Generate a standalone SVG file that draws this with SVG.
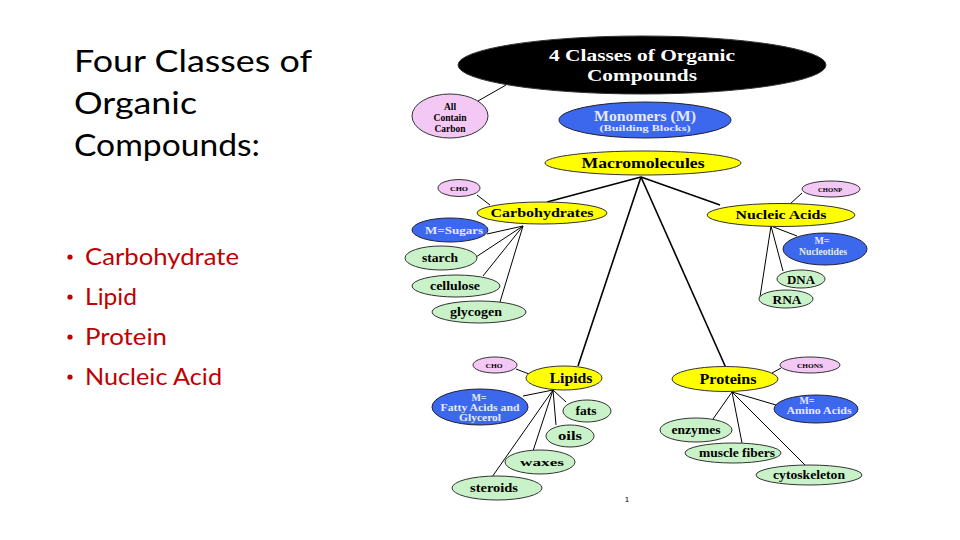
<svg xmlns="http://www.w3.org/2000/svg" width="960" height="540" viewBox="0 0 960 540">
<style>
.n{stroke:#333;stroke-width:1}
.blk{fill:#000}
.pk{fill:#f4c8f4}
.bl{fill:#3c68ee;stroke:#223}
.yl{fill:#ffff00}
.gr{fill:#c9f2c9}
.t{font-family:"Liberation Serif",serif;font-weight:bold;text-anchor:middle;fill:#000}
.w{fill:#fff}
.lb{fill:#e6e8ff}
.c line{stroke:#000;stroke-width:1}
.c .m{stroke-width:1.6}
.h{font-family:Lato,"Open Sans",sans-serif;font-weight:400;font-size:31px;fill:#000}
.b{font-family:Lato,"Open Sans",sans-serif;font-size:23px;fill:#c00000}
</style>
<rect width="960" height="540" fill="#fff"/>
<g id="left-text">
<text class="h" x="74" y="72" textLength="238" lengthAdjust="spacingAndGlyphs">Four Classes of</text>
<text class="h" x="74" y="114" textLength="123" lengthAdjust="spacingAndGlyphs">Organic</text>
<text class="h" x="74" y="156" textLength="186" lengthAdjust="spacingAndGlyphs">Compounds:</text>
<circle cx="70" cy="257" r="2.6" fill="#c00000"/>
<text class="b" x="85" y="265" textLength="154" lengthAdjust="spacingAndGlyphs">Carbohydrate</text>
<circle cx="70" cy="297" r="2.6" fill="#c00000"/>
<text class="b" x="85" y="305" textLength="52" lengthAdjust="spacingAndGlyphs">Lipid</text>
<circle cx="70" cy="337" r="2.6" fill="#c00000"/>
<text class="b" x="85" y="345" textLength="82" lengthAdjust="spacingAndGlyphs">Protein</text>
<circle cx="70" cy="377" r="2.6" fill="#c00000"/>
<text class="b" x="85" y="385" textLength="137" lengthAdjust="spacingAndGlyphs">Nucleic Acid</text>
</g>
<g class="c" id="connectors">
<line x1="478" y1="101" x2="506" y2="85"/>
<line class="m" x1="641" y1="177" x2="547" y2="202"/>
<line class="m" x1="641" y1="177" x2="720" y2="205"/>
<line class="m" x1="641" y1="177" x2="578" y2="366"/>
<line class="m" x1="641" y1="177" x2="726" y2="368"/>
<line x1="477" y1="195" x2="490" y2="205"/>
<line x1="523" y1="226" x2="487" y2="234"/>
<line x1="523" y1="226" x2="476" y2="257"/>
<line x1="523" y1="226" x2="483" y2="276"/>
<line x1="523" y1="226" x2="500" y2="302"/>
<line x1="802" y1="193" x2="790" y2="204"/>
<line x1="771" y1="226" x2="797" y2="236"/>
<line x1="771" y1="226" x2="783" y2="271"/>
<line x1="771" y1="226" x2="760" y2="297"/>
<line x1="516" y1="369" x2="529" y2="374"/>
<line x1="553" y1="390" x2="523" y2="396"/>
<line x1="553" y1="390" x2="566" y2="402"/>
<line x1="553" y1="390" x2="556" y2="425"/>
<line x1="553" y1="390" x2="533" y2="451"/>
<line x1="553" y1="390" x2="492" y2="477"/>
<line x1="781" y1="368" x2="772" y2="373"/>
<line x1="732" y1="392" x2="776" y2="405"/>
<line x1="732" y1="392" x2="713" y2="419"/>
<line x1="732" y1="392" x2="742" y2="443"/>
<line x1="732" y1="392" x2="807" y2="467"/>
</g>
<g id="title-node">
<ellipse class="n blk" cx="642" cy="65" rx="184" ry="29"/>
<text class="t w" x="642" y="61" font-size="16.5" textLength="186" lengthAdjust="spacingAndGlyphs">4 Classes of Organic</text>
<text class="t w" x="642" y="81" font-size="16.5" textLength="110" lengthAdjust="spacingAndGlyphs">Compounds</text>
</g>
<g id="all-carbon">
<ellipse class="n pk" cx="450" cy="116" rx="38" ry="22"/>
<text class="t" x="450" y="110" font-size="9.5">All</text>
<text class="t" x="450" y="121" font-size="9.5" textLength="33" lengthAdjust="spacingAndGlyphs">Contain</text>
<text class="t" x="450" y="132" font-size="9.5" textLength="31" lengthAdjust="spacingAndGlyphs">Carbon</text>
</g>
<g id="monomers">
<ellipse class="n bl" cx="645" cy="120" rx="86" ry="18"/>
<text class="t lb" x="645" y="121" font-size="14" textLength="102" lengthAdjust="spacingAndGlyphs">Monomers (M)</text>
<text class="t lb" x="645" y="131" font-size="9" textLength="91" lengthAdjust="spacingAndGlyphs">(Building Blocks)</text>
</g>
<g id="macromolecules">
<ellipse class="n yl" cx="643" cy="163" rx="98" ry="12"/>
<text class="t" x="643" y="168" font-size="14" textLength="123" lengthAdjust="spacingAndGlyphs">Macromolecules</text>
</g>
<g id="carbohydrates">
<ellipse class="n yl" cx="542" cy="213" rx="65" ry="11"/>
<text class="t" x="542" y="217" font-size="13" textLength="103" lengthAdjust="spacingAndGlyphs">Carbohydrates</text>
</g>
<g id="cho-carb">
<ellipse class="n pk" cx="459" cy="188" rx="21" ry="8.5"/>
<text class="t" x="459" y="190.5" font-size="7" textLength="18" lengthAdjust="spacingAndGlyphs">CHO</text>
</g>
<g id="m-sugars">
<ellipse class="n bl" cx="450" cy="230" rx="38" ry="12"/>
<text class="t lb" x="454" y="233.5" font-size="10" textLength="58" lengthAdjust="spacingAndGlyphs">M=Sugars</text>
</g>
<g id="starch">
<ellipse class="n gr" cx="441" cy="258" rx="36" ry="12"/>
<text class="t" x="440" y="262" font-size="12" textLength="36" lengthAdjust="spacingAndGlyphs">starch</text>
</g>
<g id="cellulose">
<ellipse class="n gr" cx="456" cy="286" rx="44" ry="11"/>
<text class="t" x="455" y="290" font-size="12" textLength="50" lengthAdjust="spacingAndGlyphs">cellulose</text>
</g>
<g id="glycogen">
<ellipse class="n gr" cx="479" cy="312" rx="47" ry="11"/>
<text class="t" x="476" y="316" font-size="12" textLength="52" lengthAdjust="spacingAndGlyphs">glycogen</text>
</g>
<g id="nucleic-acids">
<ellipse class="n yl" cx="781" cy="215" rx="74" ry="11.5"/>
<text class="t" x="781" y="219" font-size="13" textLength="91" lengthAdjust="spacingAndGlyphs">Nucleic Acids</text>
</g>
<g id="chonp">
<ellipse class="n pk" cx="831" cy="189" rx="29" ry="8"/>
<text class="t" x="830" y="191.5" font-size="7" textLength="24" lengthAdjust="spacingAndGlyphs">CHONP</text>
</g>
<g id="m-nucleotides">
<ellipse class="n bl" cx="825" cy="249" rx="42" ry="16"/>
<text class="t lb" x="822" y="244" font-size="10">M=</text>
<text class="t lb" x="823" y="255" font-size="10" textLength="48" lengthAdjust="spacingAndGlyphs">Nucleotides</text>
</g>
<g id="dna">
<ellipse class="n gr" cx="801" cy="279" rx="24" ry="9"/>
<text class="t" x="801" y="283.5" font-size="12" textLength="28" lengthAdjust="spacingAndGlyphs">DNA</text>
</g>
<g id="rna">
<ellipse class="n gr" cx="786" cy="299" rx="27" ry="9"/>
<text class="t" x="787" y="303.5" font-size="12" textLength="29" lengthAdjust="spacingAndGlyphs">RNA</text>
</g>
<g id="lipids">
<ellipse class="n yl" cx="564" cy="378" rx="38" ry="12"/>
<text class="t" x="571" y="383" font-size="14" textLength="43" lengthAdjust="spacingAndGlyphs">Lipids</text>
</g>
<g id="cho-lipid">
<ellipse class="n pk" cx="495" cy="365" rx="22" ry="8"/>
<text class="t" x="494" y="367.5" font-size="7" textLength="17" lengthAdjust="spacingAndGlyphs">CHO</text>
</g>
<g id="m-fatty">
<ellipse class="n bl" cx="480" cy="407" rx="48" ry="18"/>
<text class="t lb" x="479" y="400.5" font-size="10">M=</text>
<text class="t lb" x="480" y="410.5" font-size="10" textLength="79" lengthAdjust="spacingAndGlyphs">Fatty Acids and</text>
<text class="t lb" x="480" y="420.5" font-size="10" textLength="42" lengthAdjust="spacingAndGlyphs">Glycerol</text>
</g>
<g id="fats">
<ellipse class="n gr" cx="587" cy="411" rx="24" ry="11"/>
<text class="t" x="586" y="414.5" font-size="12" textLength="21" lengthAdjust="spacingAndGlyphs">fats</text>
</g>
<g id="oils">
<ellipse class="n gr" cx="570" cy="436" rx="24" ry="11"/>
<text class="t" x="570" y="440" font-size="12" textLength="24" lengthAdjust="spacingAndGlyphs">oils</text>
</g>
<g id="waxes">
<ellipse class="n gr" cx="540" cy="462" rx="35" ry="12"/>
<text class="t" x="542" y="465.5" font-size="10.5" textLength="44" lengthAdjust="spacingAndGlyphs">waxes</text>
</g>
<g id="steroids">
<ellipse class="n gr" cx="497" cy="488" rx="45" ry="12"/>
<text class="t" x="494" y="492" font-size="12" textLength="48" lengthAdjust="spacingAndGlyphs">steroids</text>
</g>
<g id="proteins">
<ellipse class="n yl" cx="725" cy="379" rx="53" ry="12.5"/>
<text class="t" x="728" y="384" font-size="14" textLength="57" lengthAdjust="spacingAndGlyphs">Proteins</text>
</g>
<g id="chons">
<ellipse class="n pk" cx="810" cy="365" rx="30" ry="8"/>
<text class="t" x="810" y="367.5" font-size="7" textLength="26" lengthAdjust="spacingAndGlyphs">CHONS</text>
</g>
<g id="m-amino">
<ellipse class="n bl" cx="816" cy="409" rx="42" ry="14"/>
<text class="t lb" x="807" y="404" font-size="10">M=</text>
<text class="t lb" x="819" y="414" font-size="10" textLength="65" lengthAdjust="spacingAndGlyphs">Amino Acids</text>
</g>
<g id="enzymes">
<ellipse class="n gr" cx="696" cy="430" rx="36" ry="12"/>
<text class="t" x="696" y="433.5" font-size="12" textLength="49" lengthAdjust="spacingAndGlyphs">enzymes</text>
</g>
<g id="muscle-fibers">
<ellipse class="n gr" cx="733" cy="453" rx="48" ry="10"/>
<text class="t" x="737" y="457" font-size="12" textLength="76" lengthAdjust="spacingAndGlyphs">muscle fibers</text>
</g>
<g id="cytoskeleton">
<ellipse class="n gr" cx="809" cy="475" rx="53" ry="10"/>
<text class="t" x="809" y="479" font-size="12" textLength="72" lengthAdjust="spacingAndGlyphs">cytoskeleton</text>
</g>
<text x="627" y="502" font-family="Liberation Sans, sans-serif" font-size="8" fill="#000" text-anchor="middle">1</text>
</svg>
